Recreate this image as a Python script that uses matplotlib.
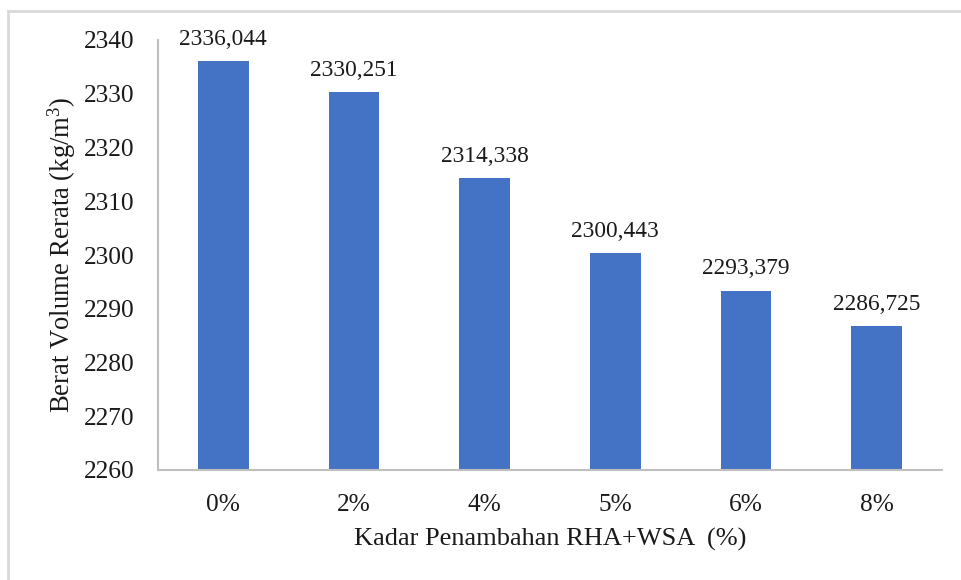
import matplotlib
matplotlib.use("Agg")
import matplotlib.pyplot as plt
from matplotlib.lines import Line2D

categories = ["0%", "2%", "4%", "5%", "6%", "8%"]
values = [2336.044, 2330.251, 2314.338, 2300.443, 2293.379, 2286.725]
value_labels = ["2336,044", "2330,251", "2314,338", "2300,443", "2293,379", "2286,725"]
yticks = [2260, 2270, 2280, 2290, 2300, 2310, 2320, 2330, 2340]

plt.rcParams['font.family'] = ['Liberation Serif', 'DejaVu Serif']
plt.rcParams['mathtext.fontset'] = 'custom'
plt.rcParams['mathtext.rm'] = 'Liberation Serif'
plt.rcParams['mathtext.it'] = 'Liberation Serif:italic'

W, H = 961, 580
fig = plt.figure(figsize=(W/100, H/100), dpi=100)
ax = fig.add_axes([158/W, 1-470/H, (942-158)/W, (470-40)/H])

x = range(len(categories))
ax.bar(x, values, width=0.39, color='#4472C4', zorder=2)
ax.set_ylim(2260, 2340)
ax.set_xlim(-0.5, len(categories)-0.5)
ax.set_yticks(yticks)
ax.set_xticks(list(x))
ax.set_xticklabels(categories)

txt = '#1a1a1a'
ax.tick_params(axis='both', length=0, labelsize=18.3, colors=txt)
ax.tick_params(axis='x', pad=17)
ax.tick_params(axis='y', pad=17)

for s in ['top', 'right']:
    ax.spines[s].set_visible(False)
for s in ['left', 'bottom']:
    ax.spines[s].set_color('#BFBFBF')
    ax.spines[s].set_linewidth(1.5)

for xi, v, lab in zip(x, values, value_labels):
    ax.annotate(lab, (xi, v), xytext=(0, 8), textcoords='offset points',
                ha='center', va='bottom', fontsize=16.8, color=txt)

ax.set_ylabel(r'Berat Volume Rerata (kg/m$^3$)', fontsize=19.2, color=txt, labelpad=4)
ax.set_xlabel('Kadar Penambahan RHA+WSA  (%)', fontsize=19, color=txt, labelpad=9)

bc = '#D9D9D9'
fig.add_artist(Line2D([8/W, 1.0], [1-11/H, 1-11/H], color=bc, lw=2, transform=fig.transFigure))
fig.add_artist(Line2D([8/W, 8/W], [0.0, 1-11/H], color=bc, lw=2, transform=fig.transFigure))

fig.savefig('out.png', dpi=100)
